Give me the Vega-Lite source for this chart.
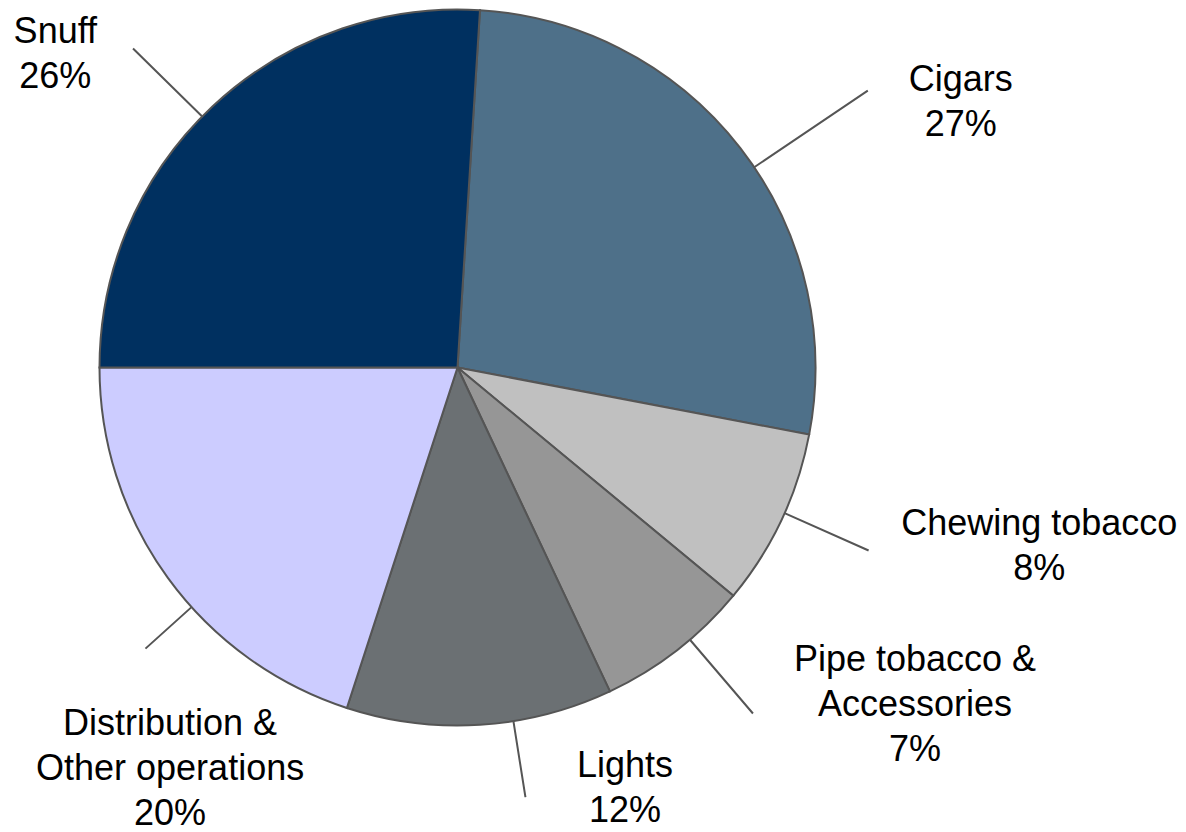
{
  "$schema": "https://vega.github.io/schema/vega-lite/v6.json",
  "width": 915,
  "height": 735,
  "autosize": {"type": "none"},
  "padding": {"left": 0, "top": 0, "right": 271, "bottom": 97},
  "background": "white",
  "config": {"view": {"stroke": null}},
  "data": {
    "values": [
      {"segment": "Cigars", "share": 27, "order": 1, "label": "Cigars\n27%"},
      {"segment": "Chewing tobacco", "share": 8, "order": 2, "label": "Chewing tobacco\n8%"},
      {"segment": "Pipe tobacco & Accessories", "share": 7, "order": 3, "label": "Pipe tobacco &\nAccessories\n7%"},
      {"segment": "Lights", "share": 12, "order": 4, "label": "Lights\n12%"},
      {"segment": "Distribution & Other operations", "share": 20, "order": 5, "label": "Distribution &\nOther operations\n20%"},
      {"segment": "Snuff", "share": 26, "order": 6, "label": "Snuff\n26%"}
    ]
  },
  "encoding": {
    "theta": {"field": "share", "type": "quantitative", "stack": true, "scale": {"range": [0.06283, 6.34602]}},
    "order": {"field": "order", "type": "quantitative"},
    "detail": {"field": "segment", "type": "nominal"}
  },
  "layer": [
    {
      "mark": {"type": "arc", "outerRadius": 358, "stroke": "#555555", "strokeWidth": 2},
      "encoding": {
        "color": {
          "field": "segment", "type": "nominal", "legend": null,
          "scale": {
            "domain": ["Cigars", "Chewing tobacco", "Pipe tobacco & Accessories", "Lights", "Distribution & Other operations", "Snuff"],
            "range": ["#4e7089", "#c0c0c0", "#969696", "#6b7073", "#ccccff", "#003060"]
          }
        }
      }
    },
    {
      "mark": {"type": "arc", "innerRadius": 358, "outerRadius": 495, "thetaOffset": 0.066, "theta2Offset": 0.066, "padAngle": 3.14, "stroke": "#555555", "strokeWidth": 2, "fillOpacity": 0},
      "encoding": {"strokeOpacity": {"condition": {"test": "datum.segment === 'Cigars'", "value": 1}, "value": 0}}
    },
    {
      "mark": {"type": "arc", "innerRadius": 358, "outerRadius": 450, "thetaOffset": -0.021, "theta2Offset": -0.021, "padAngle": 3.14, "stroke": "#555555", "strokeWidth": 2, "fillOpacity": 0},
      "encoding": {"strokeOpacity": {"condition": {"test": "datum.segment === 'Chewing tobacco'", "value": 1}, "value": 0}}
    },
    {
      "mark": {"type": "arc", "innerRadius": 358, "outerRadius": 455, "thetaOffset": -0.047, "theta2Offset": -0.047, "padAngle": 3.14, "stroke": "#555555", "strokeWidth": 2, "fillOpacity": 0},
      "encoding": {"strokeOpacity": {"condition": {"test": "datum.segment === 'Pipe tobacco & Accessories'", "value": 1}, "value": 0}}
    },
    {
      "mark": {"type": "arc", "innerRadius": 358, "outerRadius": 435, "thetaOffset": -0.094, "theta2Offset": -0.094, "padAngle": 3.14, "stroke": "#555555", "strokeWidth": 2, "fillOpacity": 0},
      "encoding": {"strokeOpacity": {"condition": {"test": "datum.segment === 'Lights'", "value": 1}, "value": 0}}
    },
    {
      "mark": {"type": "arc", "innerRadius": 358, "outerRadius": 420, "thetaOffset": -0.105, "theta2Offset": -0.105, "padAngle": 3.14, "stroke": "#555555", "strokeWidth": 2, "fillOpacity": 0},
      "encoding": {"strokeOpacity": {"condition": {"test": "datum.segment === 'Distribution & Other operations'", "value": 1}, "value": 0}}
    },
    {
      "mark": {"type": "arc", "innerRadius": 358, "outerRadius": 455, "thetaOffset": -0.04, "theta2Offset": -0.04, "padAngle": 3.14, "stroke": "#555555", "strokeWidth": 2, "fillOpacity": 0},
      "encoding": {"strokeOpacity": {"condition": {"test": "datum.segment === 'Snuff'", "value": 1}, "value": 0}}
    },
    {
      "mark": {"type": "text", "radius": 570, "thetaOffset": 0.171, "dy": -20, "font": "Liberation Sans", "fontSize": 36, "lineBreak": "\n", "lineHeight": 45, "align": "center", "baseline": "middle", "color": "#000000"},
      "encoding": {"text": {"field": "label"}, "opacity": {"condition": {"test": "datum.segment === 'Cigars'", "value": 1}, "value": 0}}
    },
    {
      "mark": {"type": "text", "radius": 608, "thetaOffset": -0.145, "dy": -20, "font": "Liberation Sans", "fontSize": 36, "lineBreak": "\n", "lineHeight": 45, "align": "center", "baseline": "middle", "color": "#000000"},
      "encoding": {"text": {"field": "label"}, "opacity": {"condition": {"test": "datum.segment === 'Chewing tobacco'", "value": 1}, "value": 0}}
    },
    {
      "mark": {"type": "text", "radius": 567, "thetaOffset": -0.279, "dy": -42, "font": "Liberation Sans", "fontSize": 36, "lineBreak": "\n", "lineHeight": 45, "align": "center", "baseline": "middle", "color": "#000000"},
      "encoding": {"text": {"field": "label"}, "opacity": {"condition": {"test": "datum.segment === 'Pipe tobacco & Accessories'", "value": 1}, "value": 0}}
    },
    {
      "mark": {"type": "text", "radius": 455, "thetaOffset": -0.314, "dy": -25, "font": "Liberation Sans", "fontSize": 36, "lineBreak": "\n", "lineHeight": 45, "align": "center", "baseline": "middle", "color": "#000000"},
      "encoding": {"text": {"field": "label"}, "opacity": {"condition": {"test": "datum.segment === 'Lights'", "value": 1}, "value": 0}}
    },
    {
      "mark": {"type": "text", "radius": 495, "thetaOffset": -0.323, "dy": -47, "font": "Liberation Sans", "fontSize": 36, "lineBreak": "\n", "lineHeight": 45, "align": "center", "baseline": "middle", "color": "#000000"},
      "encoding": {"text": {"field": "label"}, "opacity": {"condition": {"test": "datum.segment === 'Distribution & Other operations'", "value": 1}, "value": 0}}
    },
    {
      "mark": {"type": "text", "radius": 511, "thetaOffset": -0.152, "dy": -20, "font": "Liberation Sans", "fontSize": 36, "lineBreak": "\n", "lineHeight": 45, "align": "center", "baseline": "middle", "color": "#000000"},
      "encoding": {"text": {"field": "label"}, "opacity": {"condition": {"test": "datum.segment === 'Snuff'", "value": 1}, "value": 0}}
    }
  ]
}
